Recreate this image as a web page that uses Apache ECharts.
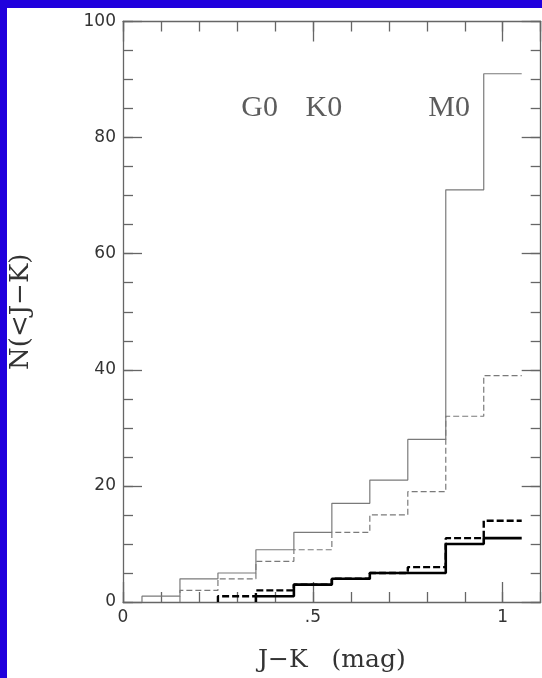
<!DOCTYPE html>
<html>
<head>
<meta charset="utf-8">
<script src="https://cdn.jsdelivr.net/npm/echarts@6/dist/echarts.min.js"></script>
<style>
html,body{margin:0;padding:0;background:#2000dd;}
#chart{width:542px;height:678px;}
</style>
</head>
<body>
<div id="chart"></div>
<script>
// Bin edges (J-K, mag) and cumulative counts N(<J-K) per bin
const binEdges = [0.05, 0.15, 0.25, 0.35, 0.45, 0.55, 0.65, 0.75, 0.85, 0.95, 1.05];
const allStars   = [1, 4, 5, 9, 12, 17, 21, 28, 71, 91];          // thin solid gray
const subsetA    = [null, 2, 4, 7, 9, 12, 15, 19, 32, 39];        // thin dashed gray
const subsetB    = [null, null, 1, 2, 3, 4, 5, 6, 11, 14];        // thick dashed black
const subsetC    = [null, null, null, 1, 3, 4, 5, 5, 10, 11];     // thick solid black
const annotLabels = ['G0', 'K0', 'M0'];
const annotX = [0.36, 0.529, 0.859];
const annotY = [85, 85, 85];
const xTickLabels = {0: '0', 0.5: '.5', 1: '1'};

function stepPoints(vals) {
  const pts = [];
  let first = vals.findIndex(v => v !== null);
  pts.push([binEdges[first], 0]);
  for (let i = first; i < vals.length; i++) {
    pts.push([binEdges[i], vals[i]]);
    pts.push([binEdges[i + 1], vals[i]]);
  }
  return pts;
}

const frameColor = '#666';
const chart = echarts.init(document.getElementById('chart'), null, {renderer: 'canvas'});

function xAx(pos, interval, len, labels, line) {
  return {
    type: 'value', position: pos, min: 0, max: 1.1, interval: interval,
    axisLine: {show: line, onZero: false, lineStyle: {color: frameColor, width: 1.3}},
    axisTick: {show: true, inside: true, length: len, lineStyle: {color: frameColor, width: 1.3}},
    splitLine: {show: false},
    axisLabel: labels ? {
      show: true, margin: 7, color: '#333', fontFamily: 'DejaVu Sans', fontSize: 17,
      showMaxLabel: false,
      formatter: v => { const k = Math.round(v * 10) / 10; return xTickLabels[k] !== undefined ? xTickLabels[k] : ''; }
    } : {show: false}
  };
}
function yAx(pos, interval, len, labels, line) {
  return {
    type: 'value', position: pos, min: 0, max: 100, interval: interval,
    axisLine: {show: line, onZero: false, lineStyle: {color: frameColor, width: 1.3}},
    axisTick: {show: true, inside: true, length: len, lineStyle: {color: frameColor, width: 1.3}},
    splitLine: {show: false},
    axisLabel: labels ? {show: true, margin: 7, color: '#333', fontFamily: 'DejaVu Sans', fontSize: 17} : {show: false}
  };
}

const xAxes = [
  xAx('bottom', 0.5, 20, true, true),
  xAx('bottom', 0.1, 10, false, false),
  xAx('top', 0.5, 20, false, true),
  xAx('top', 0.1, 10, false, false)
];
Object.assign(xAxes[0], {
  name: 'J\u2212K   (mag)', nameLocation: 'middle', nameGap: 46,
  nameTextStyle: {fontFamily: 'DejaVu Serif', fontSize: 25, color: '#333'}
});
const yAxes = [
  yAx('left', 20, 19, true, true),
  yAx('left', 5, 10, false, false),
  yAx('right', 20, 19, false, true),
  yAx('right', 5, 10, false, false)
];
Object.assign(yAxes[0], {
  name: 'N(<J\u2212K)', nameLocation: 'middle', nameGap: 89, nameRotate: 90,
  nameTextStyle: {fontFamily: 'DejaVu Serif', fontSize: 26, color: '#333'}
});

function lineSeries(vals, color, width, type, z) {
  return {
    type: 'line', xAxisIndex: 0, yAxisIndex: 0, data: stepPoints(vals),
    showSymbol: false, symbol: 'none', animation: false, z: z,
    lineStyle: {color: color, width: width, type: type}
  };
}

chart.setOption({
  backgroundColor: '#2000dd',
  animation: false,
  graphic: [{type: 'rect', left: 7, top: 8, z: -100, shape: {width: 535, height: 670}, style: {fill: '#ffffff'}}],
  grid: {left: 123, top: 21.5, right: 1.3, bottom: 76, containLabel: false},
  xAxis: xAxes,
  yAxis: yAxes,
  series: [
    lineSeries(allStars, '#7a7a7a', 1.2, 'solid', 2),
    lineSeries(subsetA, '#7a7a7a', 1.2, [6, 3], 3),
    lineSeries(subsetB, '#000', 2.4, [7, 3], 4),
    lineSeries(subsetC, '#000', 2.6, 'solid', 5),
    {
      type: 'scatter', xAxisIndex: 0, yAxisIndex: 0, symbolSize: 0, animation: false,
      data: annotLabels.map((t, i) => ({value: [annotX[i], annotY[i]], name: t})),
      label: {show: true, position: 'inside', formatter: p => p.name,
        fontFamily: 'Liberation Serif', fontSize: 30, color: '#333'}
    }
  ]
});
</script>
</body>
</html>
